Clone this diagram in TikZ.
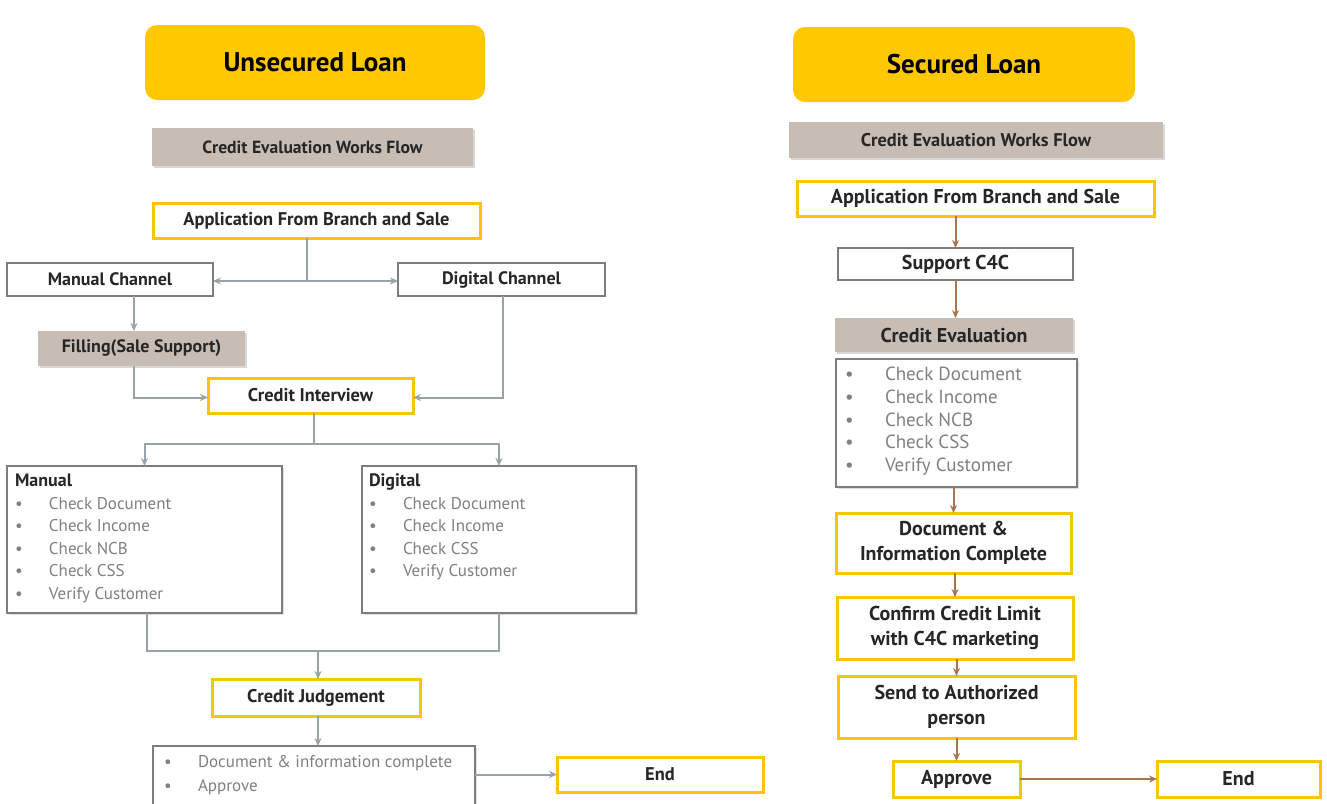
\documentclass[tikz,border=0pt]{standalone}
\usepackage{fontspec}
\setmainfont{PT Sans}
\usetikzlibrary{arrows.meta,shadows,calc}
\definecolor{ttl}{RGB}{255,200,0}
\definecolor{ybd}{RGB}{247,198,0}
\definecolor{gfill}{RGB}{199,189,180}
\definecolor{gbd}{RGB}{125,125,125}
\definecolor{lcon}{RGB}{150,163,168}
\definecolor{rcon}{RGB}{165,118,80}
\definecolor{dtxt}{RGB}{38,38,38}
\definecolor{btxt}{RGB}{128,128,128}
\newcommand\bulL{\makebox[17pt][l]{\textbullet}}
\newcommand\bulR{\makebox[20pt][l]{\textbullet}}
\newcommand\bulS{\makebox[17pt][l]{\textbullet}}
\begin{document}
\begin{tikzpicture}[x=0.5pt,y=-0.5pt,
 every node/.style={inner sep=0pt, outer sep=0pt, text=dtxt},
 ttlbox/.style={fill=ttl, rounded corners=6pt, font=\bfseries\fontsize{13.5}{16}\selectfont, text=black},
 graybox/.style={fill=gfill, font=\bfseries\fontsize{8.8}{10}\selectfont, drop shadow={shadow xshift=1pt, shadow yshift=-1pt, opacity=.3}},
 ybox/.style={draw=ybd, line width=1.5pt, fill=white, font=\bfseries\fontsize{9.2}{11}\selectfont, align=center},
 wbox/.style={draw=gbd, line width=0.8pt, fill=white, font=\bfseries\fontsize{9}{11}\selectfont},
 lbox/.style={draw=gbd, line width=0.8pt, fill=white, drop shadow={shadow xshift=1pt, shadow yshift=-1pt, opacity=.25}},
 listtxt/.style={align=left, anchor=north west, font=\fontsize{8.5}{11.25}\selectfont, text=btxt},
 lln/.style={draw=lcon, line width=1pt},
 lar/.style={draw=lcon, line width=1pt, -{Stealth[length=4pt,width=3.5pt]}},
 rar/.style={draw=rcon, line width=1pt, -{Stealth[length=4pt,width=3.5pt]}}]
\useasboundingbox[fill=white] (0,0) rectangle (1327,803);

% ---------------- Left: Unsecured Loan ----------------
\node[ttlbox, minimum width=170pt, minimum height=37.5pt] (t1) at (315,62.5) {Unsecured Loan};
\node[graybox, minimum width=160.5pt, minimum height=19pt] (cw1) at (312.5,147) {Credit Evaluation Works Flow};
\node[ybox, minimum width=163.5pt, minimum height=17.5pt] (app1) at (316.5,220.5) {Application From Branch and Sale};
\node[wbox, minimum width=103pt, minimum height=16.5pt] (man) at (110,279.5) {Manual Channel};
\node[wbox, minimum width=103.5pt, minimum height=16.5pt] (dig) at (501.5,279.5) {Digital Channel};
\node[graybox, font=\bfseries\fontsize{9}{11}\selectfont, minimum width=103.5pt, minimum height=17.5pt] (fil) at (141.5,348.5) {Filling(Sale Support)};
\node[ybox, minimum width=102.5pt, minimum height=17.5pt] (ci) at (310.5,395.5) {Credit Interview};
\node[lbox, minimum width=137.5pt, minimum height=73.5pt] (mbox) at (144.5,539.5) {};
\node[lbox, minimum width=137pt, minimum height=73.5pt] (dbox) at (499,539.5) {};
\node[listtxt] (mtxt) at (15,474) {{\bfseries\fontsize{9}{11}\selectfont\color{dtxt}Manual}\\ \bulL Check Document\\ \bulL Check Income\\ \bulL Check NCB\\ \bulL Check CSS\\ \bulL Verify Customer};
\node[listtxt] (dtxt) at (369,474) {{\bfseries\fontsize{9}{11}\selectfont\color{dtxt}Digital}\\ \bulL Check Document\\ \bulL Check Income\\ \bulL Check CSS\\ \bulL Verify Customer};
\node[ybox, minimum width=104pt, minimum height=18.5pt] (cj) at (316,697.5) {Credit Judgement};
\node[lbox, minimum width=161pt, minimum height=31pt] (res) at (314,777) {};
\node[listtxt, font=\fontsize{8.5}{12}\selectfont] (rtxt) at (164,755) {\bulS Document \& information complete\\ \bulS Approve};
\node[ybox, minimum width=103pt, minimum height=17.5pt] (end1) at (660,774.5) {End};

\coordinate (j1) at (307,281);
\draw[lln] (app1.south -| j1) -- (j1);
\draw[lar] (j1) -- (j1 -| man.east);
\draw[lar] (j1) -- (j1 -| dig.west);
\draw[lar] ([xshift=12pt]man.south) -- ([xshift=12pt]man.south |- fil.north);
\draw[lar] ([xshift=-4pt]fil.south) |- ([yshift=-1pt]ci.west);
\draw[lar] ([xshift=0.75pt]dig.south) |- ([yshift=-1pt]ci.east);
\coordinate (j3) at (314,444);
\draw[lln] (ci.south -| j3) -- (j3);
\draw[lar] (j3) -| (mbox.north);
\draw[lar] (j3) -| (dbox.north);
\coordinate (j4) at (318,651);
\draw[lln] ([xshift=1pt]mbox.south) |- (j4) -| (dbox.south);
\draw[lar] (j4) -- (j4 |- cj.north);
\draw[lar] (cj.south -| j4) -- (j4 |- res.north);
\draw[lar] (res.east |- end1) -- (end1.west);

% ---------------- Right: Secured Loan ----------------
\node[ttlbox, minimum width=171pt, minimum height=37.5pt] (t2) at (964,64.5) {Secured Loan};
\node[graybox, font=\bfseries\fontsize{9.2}{11}\selectfont, minimum width=187pt, minimum height=18pt] (cw2) at (976,140) {Credit Evaluation Works Flow};
\node[ybox, font=\bfseries\fontsize{10}{12}\selectfont, minimum width=178.5pt, minimum height=17.5pt] (app2) at (975.5,198.5) {Application From Branch and Sale};
\node[wbox, font=\bfseries\fontsize{10}{12}\selectfont, minimum width=117.5pt, minimum height=16pt] (sup) at (955.5,264) {Support C4C};
\node[graybox, font=\bfseries\fontsize{10}{12}\selectfont, minimum width=119pt, minimum height=17pt] (ce) at (954,335) {Credit Evaluation};
\node[lbox, minimum width=120.5pt, minimum height=64pt] (cl) at (956.5,423) {};
\node[listtxt, font=\fontsize{9.5}{11.4}\selectfont] (ctxt) at (845,367) {\bulR Check Document\\ \bulR Check Income\\ \bulR Check NCB\\ \bulR Check CSS\\ \bulR Verify Customer};
\node[ybox, font=\bfseries\fontsize{10}{12.5}\selectfont, minimum width=117.5pt, minimum height=30pt] (dic) at (953.5,543) {Document \&\\Information Complete};
\node[ybox, font=\bfseries\fontsize{10}{12.5}\selectfont, minimum width=118pt, minimum height=31pt] (ccl) at (955,628) {Confirm Credit Limit\\with C4C marketing};
\node[ybox, font=\bfseries\fontsize{10}{12.5}\selectfont, minimum width=118.5pt, minimum height=31pt] (sap) at (956.5,707) {Send to Authorized\\person};
\node[ybox, font=\bfseries\fontsize{10}{12}\selectfont, minimum width=63.5pt, minimum height=18pt] (apr) at (956.5,779) {Approve};
\node[ybox, font=\bfseries\fontsize{10}{12}\selectfont, minimum width=81.5pt, minimum height=18pt] (end2) at (1238.5,779) {End};

\draw[rar] (app2.south -| sup) -- (sup.north);
\draw[rar] (sup.south) -- (sup.south |- ce.north);
\draw[rar] (cl.south -| dic) -- (dic.north);
\draw[rar] (dic.south -| ccl) -- (ccl.north);
\draw[rar] (ccl.south -| sap) -- (sap.north);
\draw[rar] (sap.south) -- (apr.north);
\draw[rar] (apr.east) -- (end2.west);
\end{tikzpicture}
\end{document}
